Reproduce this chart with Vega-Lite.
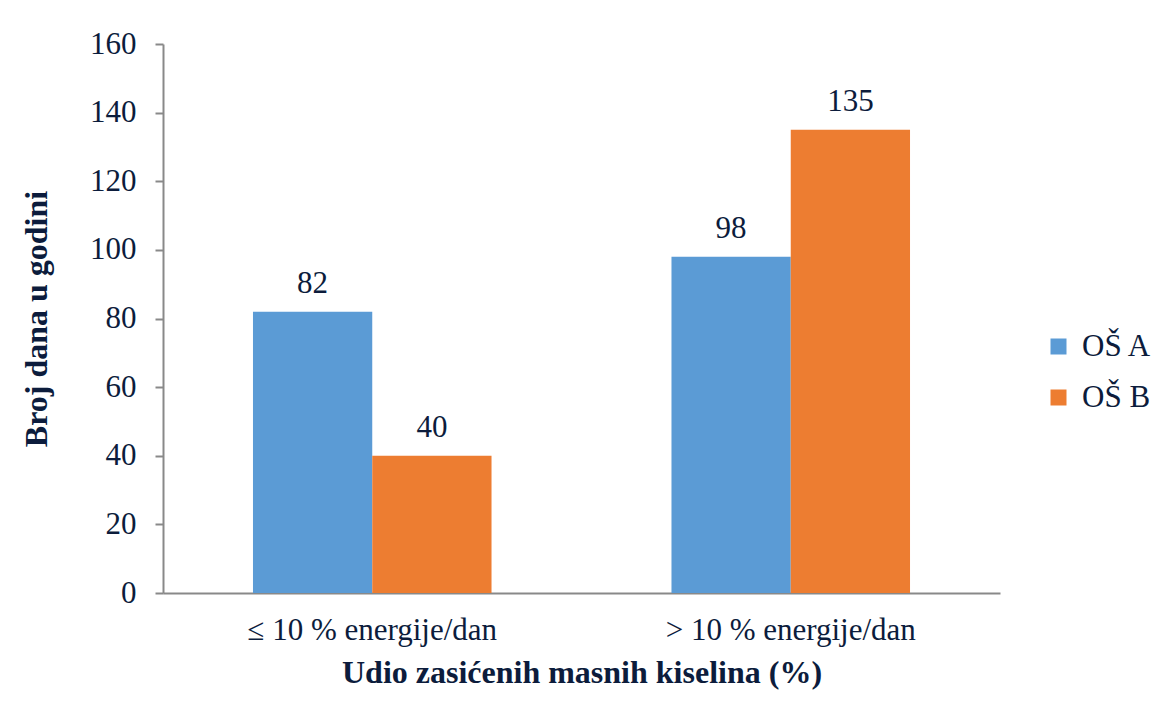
{
  "$schema": "https://vega.github.io/schema/vega-lite/v6.json",
  "width": 837,
  "height": 549,
  "padding": {"left": 20, "top": 28, "right": 5, "bottom": 5},
  "background": "white",
  "config": {
    "view": {"stroke": null},
    "font": "'Times New Roman', 'Liberation Serif', serif"
  },
  "data": {
    "values": [
      {"kategorija": "≤ 10 % energije/dan", "skola": "OŠ A", "dani": 82},
      {"kategorija": "≤ 10 % energije/dan", "skola": "OŠ B", "dani": 40},
      {"kategorija": "> 10 % energije/dan", "skola": "OŠ A", "dani": 98},
      {"kategorija": "> 10 % energije/dan", "skola": "OŠ B", "dani": 135}
    ]
  },
  "encoding": {
    "x": {
      "field": "kategorija",
      "type": "nominal",
      "sort": null,
      "scale": {"paddingInner": 0.43, "paddingOuter": 0.215},
      "title": "Udio zasićenih masnih kiselina (%)",
      "axis": {
        "labelAngle": 0,
        "labelLimit": 0,
        "labelFont": "'Times New Roman', 'Liberation Serif', serif",
        "labelFontSize": 31,
        "labelColor": "#0c1c3c",
        "labelPadding": 22,
        "ticks": false,
        "domainColor": "#898989",
        "domainWidth": 2,
        "titleFont": "'Times New Roman', 'Liberation Serif', serif",
        "titleFontSize": 32,
        "titleFontWeight": "bold",
        "titleColor": "#0c1c3c",
        "titlePadding": 12
      }
    },
    "xOffset": {"field": "skola", "type": "nominal", "scale": {"paddingInner": 0, "paddingOuter": 0}},
    "y": {
      "field": "dani",
      "type": "quantitative",
      "scale": {"domain": [0, 160], "nice": false},
      "title": "Broj dana u godini",
      "axis": {
        "values": [0, 20, 40, 60, 80, 100, 120, 140, 160],
        "grid": false,
        "labelFont": "'Times New Roman', 'Liberation Serif', serif",
        "labelFontSize": 31,
        "labelColor": "#0c1c3c",
        "labelPadding": 19,
        "tickSize": 8,
        "tickColor": "#898989",
        "tickWidth": 2,
        "domainColor": "#898989",
        "domainWidth": 2,
        "titleFont": "'Times New Roman', 'Liberation Serif', serif",
        "titleFontSize": 32,
        "titleFontWeight": "bold",
        "titleColor": "#0c1c3c",
        "titlePadding": 36
      }
    },
    "color": {
      "field": "skola",
      "type": "nominal",
      "scale": {"domain": ["OŠ A", "OŠ B"], "range": ["#5b9bd5", "#ed7d31"]},
      "legend": {
        "title": null,
        "orient": "none",
        "legendX": 880,
        "legendY": 287,
        "symbolType": "square",
        "symbolSize": 256,
        "symbolStrokeWidth": 0,
        "labelFont": "'Times New Roman', 'Liberation Serif', serif",
        "labelFontSize": 31,
        "labelColor": "#0c1c3c",
        "labelOffset": 8,
        "rowPadding": 19
      }
    }
  },
  "layer": [
    {"mark": {"type": "bar"}},
    {
      "mark": {"type": "text", "dy": -12, "fontSize": 31, "font": "'Times New Roman', 'Liberation Serif', serif", "color": "#0c1c3c", "baseline": "bottom"},
      "encoding": {"text": {"field": "dani", "type": "quantitative"}, "color": {"value": "#0c1c3c"}}
    }
  ]
}
